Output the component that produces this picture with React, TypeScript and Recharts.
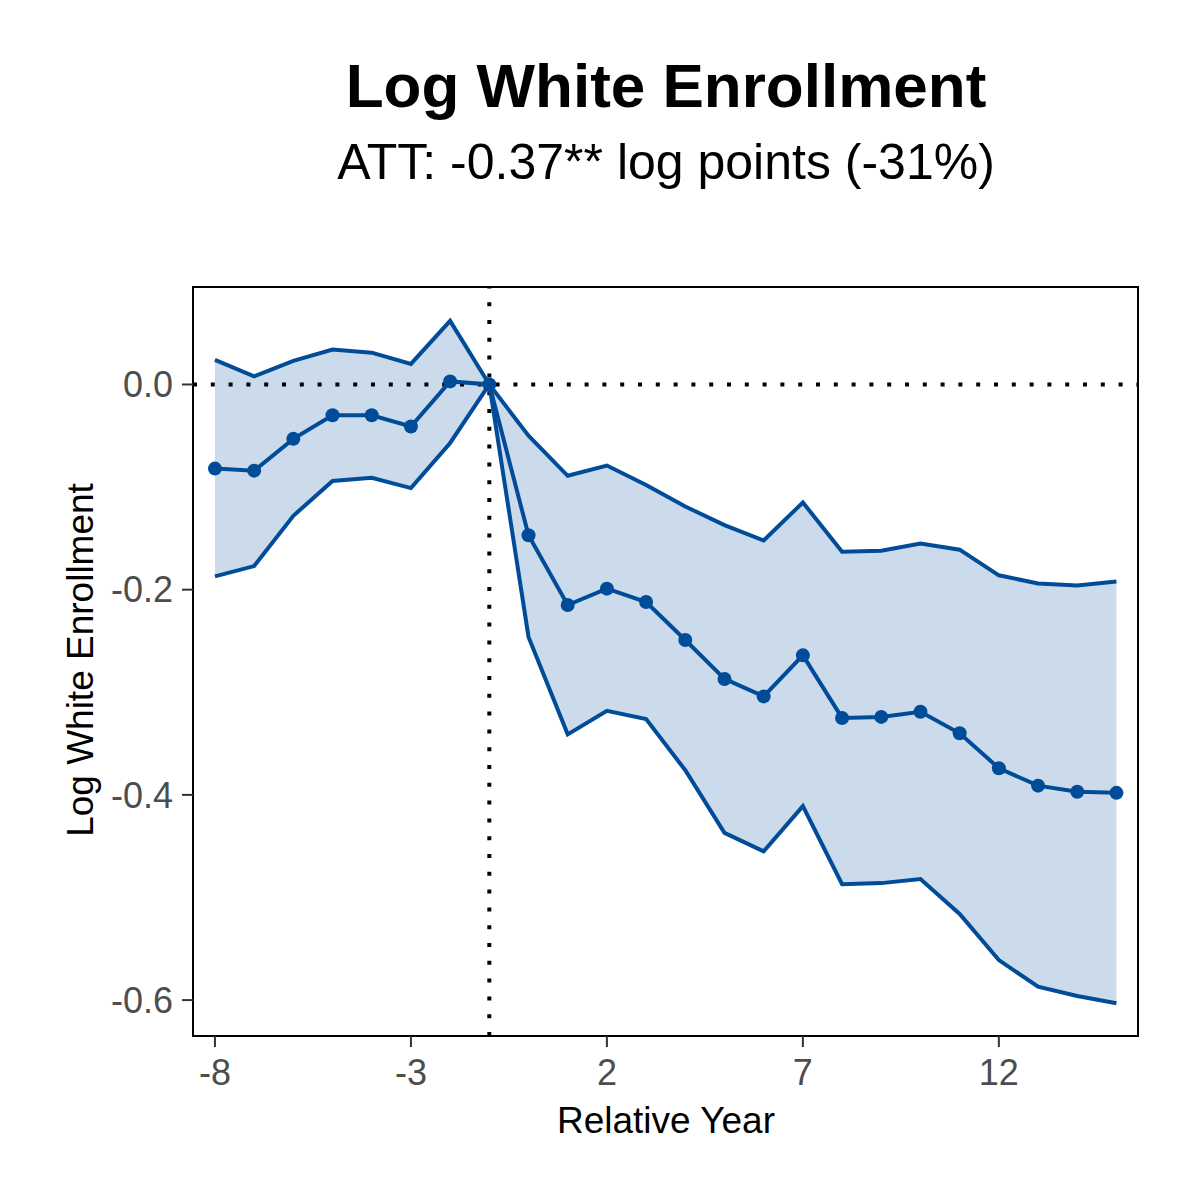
import React from "react";
import {
  ComposedChart,
  Area,
  Line,
  XAxis,
  YAxis,
  ReferenceLine,
  ReferenceArea,
} from "recharts";

// relative years around treatment, with event-study estimates and 95% CI bounds
const years = [-8, -7, -6, -5, -4, -3, -2, -1, 0, 1, 2, 3, 4, 5, 6, 7, 8, 9, 10, 11, 12, 13, 14, 15];
const estimate = [
  -0.082, -0.084, -0.053, -0.03, -0.03, -0.041, 0.003, 0, -0.147, -0.215, -0.199, -0.212,
  -0.249, -0.287, -0.304, -0.264, -0.325, -0.324, -0.319, -0.34, -0.374, -0.391, -0.397, -0.398,
];
const upper = [
  0.024, 0.008, 0.023, 0.034, 0.031, 0.02, 0.062, 0, -0.05, -0.089, -0.079, -0.098,
  -0.119, -0.137, -0.152, -0.115, -0.163, -0.162, -0.155, -0.161, -0.186, -0.194, -0.196, -0.192,
];
const lower = [
  -0.187, -0.177, -0.128, -0.094, -0.091, -0.101, -0.057, 0, -0.246, -0.341, -0.318, -0.326,
  -0.376, -0.437, -0.455, -0.411, -0.487, -0.486, -0.482, -0.516, -0.561, -0.587, -0.596, -0.603,
];

const xTicks = [-8, -3, 2, 7, 12];
const yTicks = [-0.6, -0.4, -0.2, 0];
const xDomain = [-8.56, 15.55];
const yDomain = [-0.635, 0.095];

const BLUE = "#004C99";
const FONT = '"Liberation Sans", Arial, Helvetica, sans-serif';
const DOTTED = "4 13.8";

const data = years.map((year, i) => ({
  year,
  estimate: estimate[i],
  upper: upper[i],
  lower: lower[i],
  band: [lower[i], upper[i]],
}));

export default function App() {
  return (
    <div
      style={{
        position: "absolute",
        left: 0,
        top: 0,
        width: 1200,
        height: 1200,
        background: "#fff",
        fontFamily: FONT,
      }}
    >
      <ComposedChart
        width={1200}
        height={1200}
        data={data}
        margin={{ top: 287, right: 62, bottom: 104, left: 0 }}
      >
        <XAxis
          type="number"
          dataKey="year"
          domain={xDomain}
          ticks={xTicks}
          interval={0}
          allowDataOverflow
          axisLine={false}
          height={60}
          tickSize={11}
          tickMargin={12}
          tickLine={{ stroke: "#333333", strokeWidth: 2 }}
          tick={{ fill: "#4D4D4D", fontSize: 36, fontFamily: FONT }}
        />
        <YAxis
          type="number"
          domain={yDomain}
          ticks={yTicks}
          interval={0}
          allowDataOverflow
          axisLine={false}
          width={193}
          tickSize={11}
          tickMargin={9}
          tickLine={{ stroke: "#333333", strokeWidth: 2 }}
          tick={{ fill: "#4D4D4D", fontSize: 36, fontFamily: FONT }}
          tickFormatter={(v: number) => v.toFixed(1)}
        />
        <Area
          dataKey="band"
          type="linear"
          fill={BLUE}
          fillOpacity={0.2}
          stroke="none"
          isAnimationActive={false}
        />
        <ReferenceLine y={0} stroke="#000" strokeWidth={4} strokeDasharray={DOTTED} />
        <ReferenceLine x={-1} stroke="#000" strokeWidth={4} strokeDasharray={DOTTED} />
        <Line
          dataKey="upper"
          type="linear"
          stroke={BLUE}
          strokeWidth={4}
          dot={false}
          activeDot={false}
          isAnimationActive={false}
        />
        <Line
          dataKey="lower"
          type="linear"
          stroke={BLUE}
          strokeWidth={4}
          dot={false}
          activeDot={false}
          isAnimationActive={false}
        />
        <Line
          dataKey="estimate"
          type="linear"
          stroke={BLUE}
          strokeWidth={4}
          dot={{ r: 7, fill: BLUE, stroke: "none" }}
          activeDot={false}
          isAnimationActive={false}
        />
        <ReferenceArea
          x1={xDomain[0]}
          x2={xDomain[1]}
          y1={yDomain[0]}
          y2={yDomain[1]}
          fill="none"
          fillOpacity={0}
          stroke="#000"
          strokeWidth={2}
        />
      </ComposedChart>
      <svg
        width={1200}
        height={1200}
        style={{ position: "absolute", left: 0, top: 0, pointerEvents: "none" }}
      >
        <text x={666} y={107} textAnchor="middle" fontSize={62} fontWeight="bold" fontFamily={FONT} fill="#000">
          Log White Enrollment
        </text>
        <text x={666} y={179} textAnchor="middle" fontSize={50} fontFamily={FONT} fill="#000">
          ATT: -0.37** log points (-31%)
        </text>
        <text x={666} y={1133} textAnchor="middle" fontSize={37} fontFamily={FONT} fill="#000">
          Relative Year
        </text>
        <text
          transform="translate(93,660) rotate(-90)"
          textAnchor="middle"
          fontSize={37}
          fontFamily={FONT}
          fill="#000"
        >
          Log White Enrollment
        </text>
      </svg>
    </div>
  );
}
